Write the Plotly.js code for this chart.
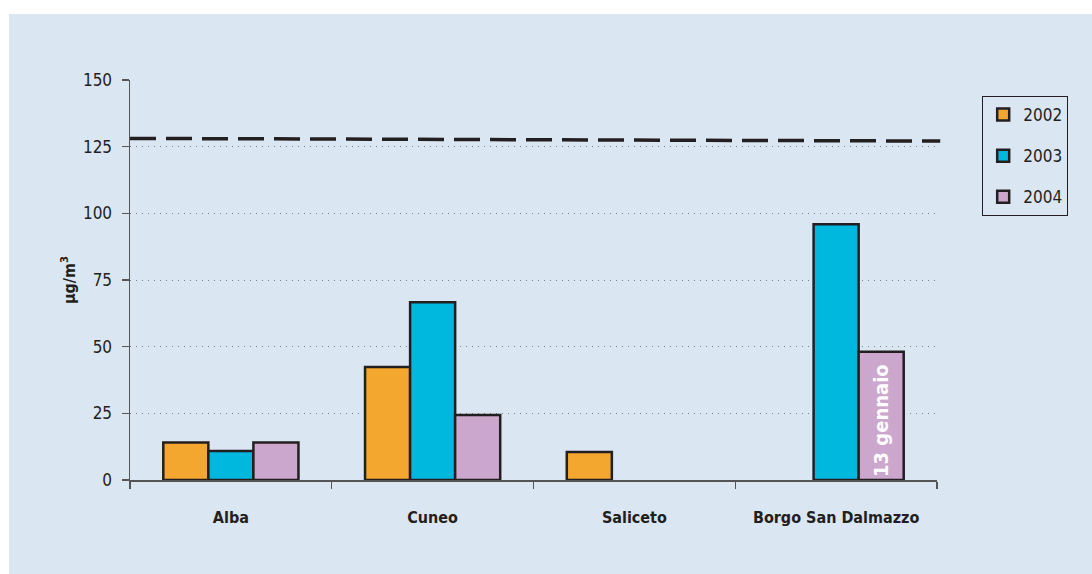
<!DOCTYPE html>
<html>
<head>
<meta charset="utf-8">
<script src="https://cdn.plot.ly/plotly-3.0.1.min.js"></script>
<style>
html,body{margin:0;padding:0;background:#ffffff;width:1092px;height:574px;overflow:hidden;}
#chart{position:absolute;left:9px;top:14px;width:1083px;height:560px;}
</style>
</head>
<body>
<div id="chart"></div>
<script>
const categories = ["Alba", "Cuneo", "Saliceto", "Borgo San Dalmazzo"];
const years = ["2002", "2003", "2004"];
const values2002 = [14.1, 42.4, 10.5, null];
const values2003 = [10.9, 66.7, null, 95.9];
const values2004 = [14.1, 24.4, null, 48.1];
const labels2004 = ["", "", "", "13 gennaio"];
const limitLine = [128.1, 127.1];
const yTicks = [0, 25, 50, 75, 100, 125, 150];

const colors = ["#f4a72e", "#00b7de", "#cba6cd"];
const fontFam = "'DejaVu Sans Condensed', 'Liberation Sans Narrow', 'Liberation Sans', Arial, sans-serif";
const series = [values2002, values2003, values2004];

const traces = series.map((vals, i) => ({
  type: "bar",
  name: years[i],
  x: categories,
  y: vals,
  legendgroup: years[i],
  marker: {color: colors[i], line: {color: "#231f20", width: 2.5}},
  text: i === 2 ? labels2004 : undefined,
  textposition: i === 2 ? "inside" : "none",
  insidetextanchor: "start",
  textangle: -90,
  textfont: {family: fontFam, size: 20, color: "#ffffff", weight: "bold"},
  hoverinfo: "x+y+name"
}));

const layout = {
  width: 1083, height: 560,
  margin: {l: 121, r: 155, t: 66, b: 94},
  paper_bgcolor: "#dbe6f3",
  plot_bgcolor: "#dbe6f3",
  barmode: "group",
  bargap: 0.33,
  bargroupgap: 0,
  font: {family: fontFam, color: "#231f20", size: 16},
  showlegend: true,
  legend: {
    x: 1.056, y: 0.96, xanchor: "left", yanchor: "top",
    bgcolor: "#dbe6f3", bordercolor: "#231f20", borderwidth: 1,
    font: {family: fontFam, size: 17, color: "#231f20"},
    tracegroupgap: 16, traceorder: "grouped",
    itemwidth: 30
  },
  xaxis: {
    type: "category",
    showgrid: false,
    showline: true, linecolor: "#555555", linewidth: 1.5,
    ticks: "outside", tickson: "boundaries", ticklen: 7, tickcolor: "#555555", tickwidth: 1.2,
    ticklabelstandoff: 22,
    tickfont: {family: fontFam, size: 16, color: "#231f20", weight: "bold"},
    zeroline: false, fixedrange: true
  },
  yaxis: {
    range: [0, 150],
    tickvals: yTicks,
    ticktext: yTicks.map(String),
    showgrid: true, gridcolor: "#7d838b", griddash: "1px,5px", gridwidth: 1,
    showline: true, linecolor: "#555555", linewidth: 1.5,
    ticks: "outside", ticklen: 7, tickcolor: "#555555", tickwidth: 1.2,
    ticklabelstandoff: 6,
    tickfont: {family: fontFam, size: 17, color: "#231f20"},
    zeroline: false,
    title: {text: "µg/m<sup>3</sup>", font: {family: fontFam, size: 16, color: "#231f20", weight: "bold"}, standoff: 3},
    fixedrange: true
  },
  shapes: [{
    type: "line", xref: "paper", yref: "y",
    x0: 0, x1: 1.004, y0: limitLine[0], y1: limitLine[1],
    line: {color: "#231f20", width: 3.5, dash: "26px,10px"},
    layer: "above"
  }]
};

Plotly.newPlot("chart", traces, layout, {displayModeBar: false, staticPlot: true});
</script>
</body>
</html>
